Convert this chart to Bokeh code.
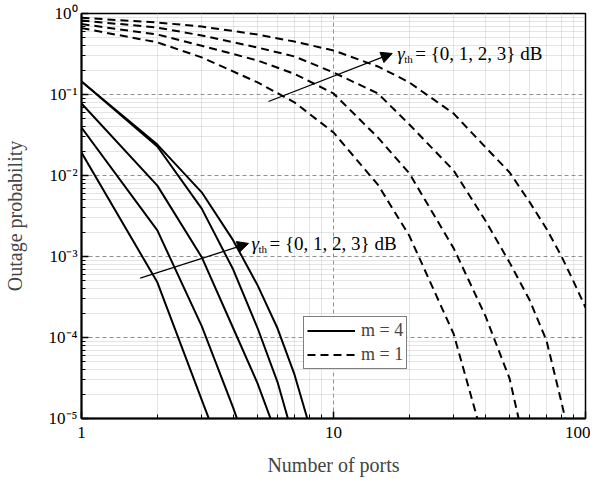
from bokeh.plotting import figure
from bokeh.models import (FixedTicker, Legend, LegendItem, Arrow, NormalHead, Label,
                          CustomJSTickFormatter)
from bokeh.embed import file_html
from bokeh.resources import INLINE

# ---------------- data ----------------
ports_m4 = [1, 2, 3, 4, 5, 6, 7, 8]
m4_curve1 = [0.0192, 4.8e-4, 1.7e-5, 1.6e-6]
m4_curve2 = [0.0391, 2.1e-3, 1.38e-4, 1.35e-5, 1.9e-6]
m4_curve3 = [0.0774, 7.5e-3, 9.8e-4, 1.3e-4, 2.7e-5, 5.8e-6]
m4_curve4 = [0.145, 0.0228, 3.9e-3, 6.9e-4, 1.3e-4, 2.8e-5, 5.2e-6]
m4_curve5 = [0.145, 0.0241, 6.2e-3, 1.58e-3, 4.4e-4, 1.29e-4, 3.5e-5, 8.4e-6]

ports_m1 = [1, 2, 3, 5, 7, 10, 15, 20, 30, 40, 50, 60, 70, 80, 90, 100]
m1_curve1 = [0.66, 0.44, 0.287, 0.141, 0.080, 0.034, 7.7e-3, 1.8e-3, 1.1e-4, 4.5e-6]
m1_curve2 = [0.74, 0.55, 0.40, 0.263, 0.18, 0.103, 0.0295, 0.0106, 1.26e-3, 1.87e-4,
             3.1e-5, 2.5e-6]
m1_curve3 = [0.82, 0.67, 0.535, 0.38, 0.295, 0.187, 0.103, 0.0426, 0.0115, 2.8e-3,
             8.4e-4, 2.9e-4, 9.2e-5, 1.66e-5, 3.5e-6]
m1_curve4 = [0.885, 0.774, 0.69, 0.55, 0.45, 0.35, 0.222, 0.141, 0.058, 0.0225,
             0.0109, 4.7e-3, 2.2e-3, 1.03e-3, 4.8e-4, 2.34e-4]

x_major_ticks = [1, 10, 100]
x_tick_labels = ["1", "10", "100"]
x_minor_ticks = [2, 3, 4, 5, 6, 7, 8, 9, 20, 30, 40, 50, 60, 70, 80, 90]
y_major_ticks = [1e-5, 1e-4, 1e-3, 1e-2, 1e-1, 1]
y_tick_labels = ["10⁻⁵", "10⁻⁴", "10⁻³", "10⁻²", "10⁻¹", "10⁰"]
y_minor_ticks = [k * 10.0 ** e for e in range(-5, 0) for k in range(2, 10)]

legend_labels = ["m = 4", "m = 1"]
annotation_text = "= {0, 1, 2, 3} dB"

# annotation anchor points (data coordinates)
arrow_upper = (5.52, 0.082, 17.1, 0.321)
arrow_lower = (1.71, 5.4e-4, 4.6, 1.45e-3)

FONT = "Liberation Serif"

p = figure(frame_width=504, frame_height=405,
           x_axis_type="log", y_axis_type="log",
           x_range=(1, 100), y_range=(1e-5, 1),
           output_backend="svg", toolbar_location=None,
           min_border_left=81, min_border_right=5, min_border_top=13,
           min_border_bottom=56)

p.xaxis.ticker = FixedTicker(ticks=x_major_ticks, minor_ticks=x_minor_ticks)
p.yaxis.ticker = FixedTicker(ticks=y_major_ticks, minor_ticks=y_minor_ticks)
p.xaxis.formatter = CustomJSTickFormatter(args=dict(labels=x_tick_labels),
                                          code="return labels[index]")
p.yaxis.formatter = CustomJSTickFormatter(args=dict(labels=y_tick_labels),
                                          code="return labels[index]")

for ax in (p.xaxis, p.yaxis):
    ax.major_tick_in = 7
    ax.major_tick_out = 0
    ax.minor_tick_in = 4
    ax.minor_tick_out = 0
    ax.axis_line_width = 2
    ax.major_tick_line_width = 1.5
    ax.minor_tick_line_width = 1
    ax.axis_label_text_font = FONT
    ax.axis_label_text_font_style = "normal"
    ax.axis_label_text_font_size = "20px"
    ax.major_label_text_font = FONT
    ax.major_label_text_font_size = "17px"
    ax.major_label_text_color = "black"

p.xaxis.axis_label = "Number of ports"
p.xaxis.major_label_standoff = 8
p.xaxis.axis_label_standoff = 13
p.yaxis.axis_label = "Outage probability"
p.yaxis.major_label_standoff = 4
p.yaxis.axis_label_standoff = 20

for g in (p.xgrid, p.ygrid):
    g.grid_line_color = "#909090"
    g.grid_line_dash = "4 3"
    g.grid_line_width = 1
    g.minor_grid_line_color = "#c8c8c8"
    g.minor_grid_line_dash = "1 1"
    g.minor_grid_line_width = 1

p.outline_line_color = "black"
p.outline_line_width = 1.5
p.background_fill_color = "white"
p.border_fill_color = "white"

solid = []
for vals in (m4_curve1, m4_curve2, m4_curve3, m4_curve4, m4_curve5):
    solid.append(p.line(ports_m4[:len(vals)], vals, line_color="black", line_width=2))
dashed = []
for vals in (m1_curve1, m1_curve2, m1_curve3, m1_curve4):
    dashed.append(p.line(ports_m1[:len(vals)], vals, line_color="black", line_width=2,
                         line_dash="8 5"))

# arrows and annotation texts
for (x0, y0, x1, y1), off in ((arrow_upper, 5), (arrow_lower, 3)):
    p.add_layout(Arrow(end=NormalHead(size=11, fill_color="black", line_color="black",
                                      line_width=1),
                       x_start=x0, y_start=y0, x_end=x1, y_end=y1,
                       line_color="black", line_width=1.3))
    p.add_layout(Label(x=x1, y=y1, text="γ", x_offset=off, y_offset=0,
                       text_align="left", text_baseline="middle",
                       text_font=FONT, text_font_style="italic",
                       text_font_size="19px", text_color="black"))
    p.add_layout(Label(x=x1, y=y1, text="th", x_offset=off + 7, y_offset=-6,
                       text_align="left", text_baseline="middle",
                       text_font=FONT, text_font_size="11px", text_color="black"))
    p.add_layout(Label(x=x1, y=y1, text=annotation_text, x_offset=off + 18, y_offset=0,
                       text_align="left", text_baseline="middle",
                       text_font=FONT, text_font_size="19px", text_color="black"))

legend = Legend(items=[LegendItem(label=legend_labels[0], renderers=[solid[0]]),
                       LegendItem(label=legend_labels[1], renderers=[dashed[0]])],
                location=(222, 49))
legend.border_line_color = "black"
legend.border_line_width = 1
legend.background_fill_alpha = 1
legend.label_text_font = FONT
legend.label_text_font_size = "18px"
legend.glyph_width = 48
legend.glyph_height = 21
legend.label_height = 21
legend.label_standoff = 6
legend.padding = 3
legend.spacing = 3
legend.margin = 0
p.add_layout(legend)

open("out.html", "w").write(file_html(p, INLINE))
